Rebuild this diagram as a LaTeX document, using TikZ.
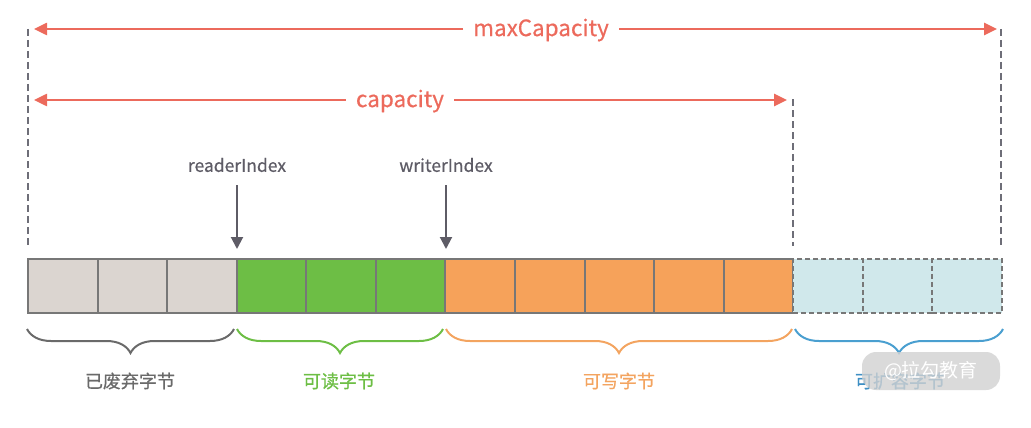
\documentclass[tikz,border=0pt]{standalone}
\usepackage{fontspec}
\setmainfont{Noto Sans CJK SC}
\newfontfamily\medfont{Noto Sans CJK SC}[FakeBold=0.6]
\usetikzlibrary{arrows.meta,decorations.pathreplacing}
\definecolor{cred}{HTML}{EC6A5C}
\definecolor{cidx}{HTML}{5E5C66}
\definecolor{cdash}{HTML}{6E6E78}
\definecolor{cborder}{HTML}{777777}
\definecolor{cgray}{HTML}{DBD5D0}
\definecolor{cgreen}{HTML}{6DBE45}
\definecolor{corange}{HTML}{F6A25A}
\definecolor{cblue}{HTML}{D0E8EB}
\definecolor{bgray}{HTML}{6A6A6A}
\definecolor{bgreen}{HTML}{6DBE45}
\definecolor{borange}{HTML}{F3A460}
\definecolor{bblue}{HTML}{4A9FD0}
\definecolor{lblue}{HTML}{3E8FC4}
\tikzset{
  cell/.style={draw=cborder,line width=2pt,minimum width=69.571pt,minimum height=54pt,inner sep=0pt,anchor=north west},
  dcell/.style={cell,dash pattern=on 5pt off 3pt},
  guide/.style={draw=cdash,line width=2pt,dash pattern=on 7pt off 4pt},
  redarrow/.style={draw=cred,line width=2.5pt,-{Triangle[length=13pt,width=12pt]}},
  redlabel/.style={text=cred,font=\medfont\fontsize{22.5}{26}\selectfont,inner xsep=10pt,inner ysep=0pt},
  idxlabel/.style={text=cidx,font=\medfont\fontsize{17.5}{20}\selectfont,inner sep=0pt},
  idxarrow/.style={draw=cidx,line width=2pt,-{Triangle[length=12pt,width=12pt]}},
  brc/.style={line width=2pt,decorate,decoration={brace,mirror,amplitude=24pt,aspect=0.5}},
  grplabel/.style={font=\medfont\fontsize{18}{21}\selectfont,inner sep=0pt},
}
\begin{document}
\begin{tikzpicture}[x=1pt,y=-1pt]
\useasboundingbox (0,0) rectangle (1031,428);
% cells
\foreach \i/\fc in {1/cgray,2/cgray,3/cgray,4/cgreen,5/cgreen,6/cgreen,7/corange,8/corange,9/corange,10/corange,11/corange}{
  \pgfmathsetmacro{\xx}{27+(\i-1)*69.571}
  \node[cell,fill=\fc] (c\i) at (\xx,258) {};
}
\foreach \i in {12,13,14}{
  \pgfmathsetmacro{\xx}{27+(\i-1)*69.571}
  \node[dcell,fill=cblue] (c\i) at (\xx,258) {};
}
% guide lines
\coordinate (gl1) at (28,29);  \coordinate (gl2) at (28,246);
\coordinate (gm1) at (793,99); \coordinate (gm2) at (793,246);
\coordinate (gr1) at (1001,29); \coordinate (gr2) at (1001,246);
\draw[guide] (gl1) -- (gl2);
\draw[guide] (gm1) -- (gm2);
\draw[guide] (gr1) -- (gr2);
% maxCapacity
\node[redlabel] (mc) at (541,30) {maxCapacity};
\coordinate (mcl) at (34,29); \coordinate (mcr) at (997,29);
\draw[redarrow] (mc.west |- mcl) -- (mcl);
\draw[redarrow] (mc.east |- mcr) -- (mcr);
% capacity
\node[redlabel] (cp) at (400,101) {capacity};
\coordinate (cpl) at (34,100); \coordinate (cpr) at (787,100);
\draw[redarrow] (cp.west |- cpl) -- (cpl);
\draw[redarrow] (cp.east |- cpr) -- (cpr);
% indices
\node[idxlabel] (ri) at (237,165) {readerIndex};
\node[idxlabel] (wi) at (446,165) {writerIndex};
\coordinate (rit) at (237,185); \coordinate (rie) at (237,249);
\coordinate (wit) at (446,185); \coordinate (wie) at (446,249);
\draw[idxarrow] (rit) -- (rie);
\draw[idxarrow] (wit) -- (wie);
% braces
\coordinate (b1a) at (27,329);  \coordinate (b1b) at (234,329);
\coordinate (b2a) at (237,329); \coordinate (b2b) at (443,329);
\coordinate (b3a) at (446,329); \coordinate (b3b) at (792,329);
\coordinate (b4a) at (795,329); \coordinate (b4b) at (1003,329);
\draw[brc,draw=bgray] (b1a) -- (b1b);
\draw[brc,draw=bgreen] (b2a) -- (b2b);
\draw[brc,draw=borange] (b3a) -- (b3b);
\draw[brc,draw=bblue] (b4a) -- (b4b);
% labels
\node[grplabel,text=bgray] (l1) at (130,381) {已废弃字节};
\node[grplabel,text=bgreen] (l2) at (339,381) {可读字节};
\node[grplabel,text=borange] (l3) at (619,381) {可写字节};
\node[grplabel,text=lblue] (l4) at (900,381) {可扩容字节};
% watermark
\node[fill=black!18,fill opacity=0.8,text opacity=1,text=white,rounded corners=14pt,minimum width=138pt,minimum height=38pt,inner sep=0pt,font=\fontsize{19}{21}\selectfont] (wm) at (931,371) {@拉勾教育};
\end{tikzpicture}
\end{document}
